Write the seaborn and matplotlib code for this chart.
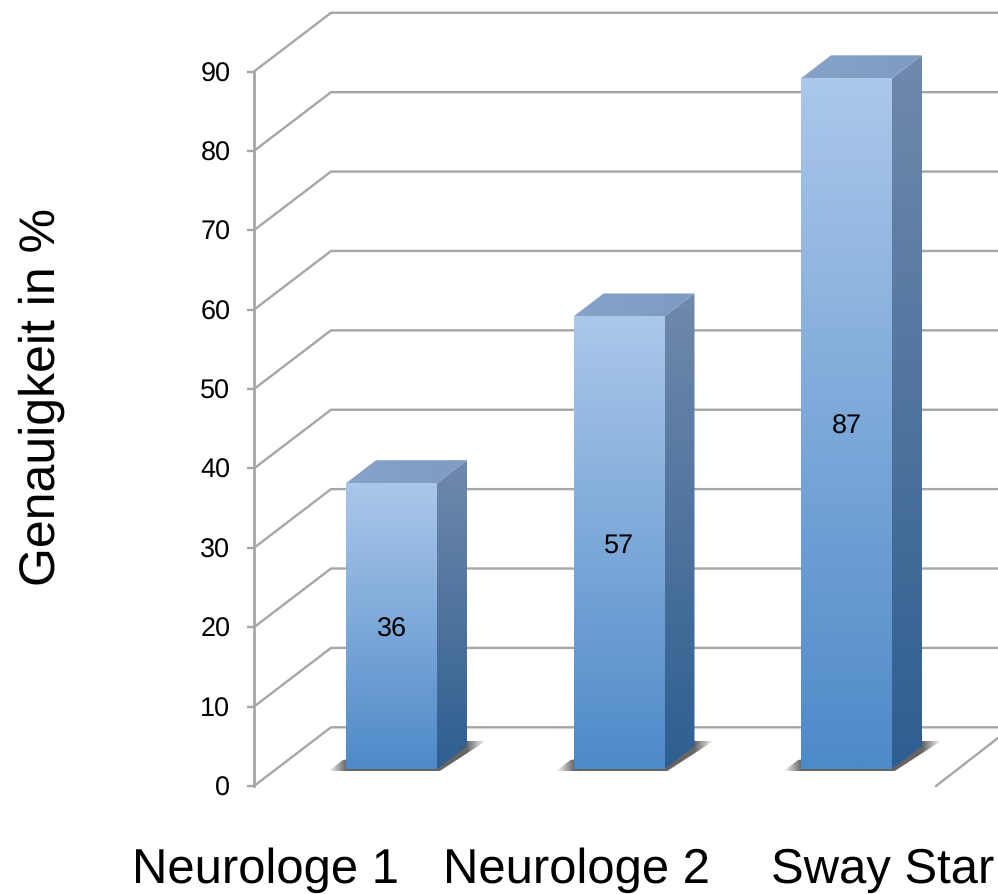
import numpy as np
import pandas as pd
import matplotlib
matplotlib.use("Agg")
import matplotlib.pyplot as plt
from matplotlib.colors import to_rgb
from matplotlib.patches import Polygon
import seaborn as sns

categories = ["Neurologe 1", "Neurologe 2", "Sway Star"]
values = [36, 57, 87]
y_ticks = [0, 10, 20, 30, 40, 50, 60, 70, 80, 90]
y_title = "Genauigkeit in %"

W, H = 998, 894
GRID = "#A6A6A6"
PX_X = 1 / 227.5         # data units per pixel, horizontally
PX_Y = 90 / 714.5        # data units per pixel, vertically
LIFT = 17 * PX_Y         # bars stand partway into the floor
FONT = "Liberation Sans"

sns.set_theme(style="white")
plt.rcParams["font.family"] = [FONT, "DejaVu Sans"]
plt.rcParams["text.hinting"] = "no_hinting"
plt.rcParams["text.hinting_factor"] = 1

fig = plt.figure(figsize=(W / 100, H / 100), dpi=100, facecolor="white")
ax = fig.add_axes([254 / W, (H - 786) / H, (W - 254) / W, 714.5 / H])
df = pd.DataFrame({"group": categories, "value": values})

sns.barplot(data=df, x="group", y="value", order=categories, width=0.4,
            color="#6D9FD6", saturation=1, bottom=LIFT, linewidth=0, ax=ax, zorder=5)

x0 = -137.5 * PX_X
x1 = 606.5 * PX_X
ax.set_xlim(x0, x1)
ax.set_ylim(0, 90)


def gradient(c1, c2, horizontal=False):
    a, b = np.array(to_rgb(c1)), np.array(to_rgb(c2))
    t = np.linspace(0, 1, 128)[:, None]
    g = a + (b - a) * t
    return g[None, :, :] if horizontal else g[:, None, :]


def fill(poly, img, z):
    pts = np.array(poly)
    ext = (pts[:, 0].min(), pts[:, 0].max(), pts[:, 1].min(), pts[:, 1].max())
    patch = Polygon(pts, closed=True, fc="none", ec="none", transform=ax.transData,
                    clip_on=False)
    ax.add_patch(patch)
    im = ax.imshow(img, extent=ext, origin="upper", aspect="auto",
                   interpolation="bilinear", zorder=z)
    im.set_clip_box(fig.bbox)
    im.set_clip_path(patch)


# back wall and floor lines
dx, dy = 77 * PX_X, 58.7 * PX_Y
for v in y_ticks:
    ax.plot([x0, x0 + dx, x1], [v, v + dy, v + dy], color=GRID, lw=1.7,
            clip_on=False, zorder=1, solid_joinstyle="miter")
fx = 544.5 * PX_X
ax.plot([fx, fx + 62 * PX_X], [0, 48 * PX_Y], color=GRID, lw=1.7, clip_on=False, zorder=1)

# 3-D faces, shadow and value label of each bar
sd, sh = 30 * PX_X, 23 * PX_Y
for bar, v in zip(ax.patches[:len(values)], values):
    L, R = bar.get_x(), bar.get_x() + bar.get_width()
    B, T = LIFT, LIFT + v

    # soft floor shadow
    t = np.linspace(0, 1, 256)
    a = np.interp(t, [0, 0.114, 0.88, 1], [0, 0.8, 0.8, 0])
    shadow = np.zeros((1, 256, 4))
    shadow[..., :3] = 0.25
    shadow[..., 3] = a
    fill([(L - 18 * PX_X, B - 2.5 * PX_Y), (L - 3 * PX_X, B + 9 * PX_Y),
          (R + 30 * PX_X, B + sh + 5 * PX_Y), (R + 49 * PX_X, B + sh + 5 * PX_Y),
          (R + 2 * PX_X, B - 2.5 * PX_Y)], shadow, 2)

    # front
    fill([(L, B), (L, T), (R, T), (R, B)], gradient("#ABC7EA", "#4E8AC8"), 6)
    # side
    fill([(R, B), (R, T), (R + sd, T + sh), (R + sd, B + sh)],
         gradient("#7089AC", "#2E5E90"), 6)
    # top
    fill([(L, T), (L + sd, T + sh), (R + sd, T + sh), (R, T)],
         gradient("#86A2C8", "#7F9BC3", horizontal=True), 6)

    ax.text((L + R) / 2, B + v / 2 - 3.2 * PX_Y, str(v), ha="center", va="center",
            fontsize=19.4, color="black", zorder=8, family=FONT)

ax.set_xlim(x0, x1)
ax.set_ylim(0, 90)
ax.patch.set_alpha(0)

# axes
sns.despine(ax=ax, top=True, right=True, bottom=True, left=False)
ax.spines["left"].set_color(GRID)
ax.spines["left"].set_linewidth(2.0)
ax.spines["left"].set_zorder(3)
ax.set_yticks(y_ticks)
ax.tick_params(axis="y", left=True, length=5, width=1.7, color=GRID, pad=12,
               labelsize=19.4, labelcolor="black")
ax.set_xticks([])
ax.set_xlabel("")
ax.set_ylabel("")

# titles
fig.text(42 / W, 1 - 397 / H, y_title, rotation=90, ha="center", va="center",
         fontsize=35.7, color="black", family=FONT)
for name, left in zip(categories, [132, 443, 771]):
    fig.text(left / W, 1 - 882.5 / H, name, ha="left", va="baseline",
             fontsize=35.5, color="black", family=FONT)

fig.savefig("out.png", dpi=100, facecolor="white")
